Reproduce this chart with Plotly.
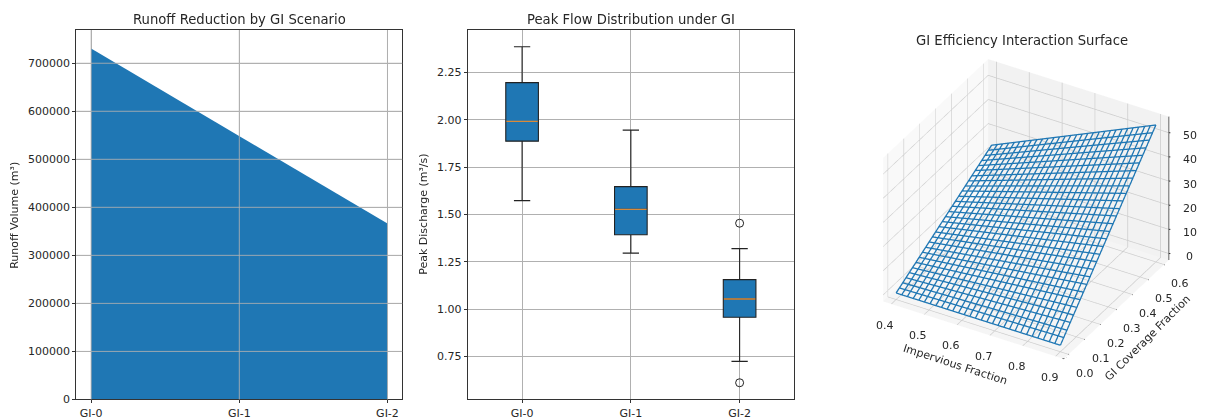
import plotly.graph_objects as go

# ---- data ----
scenarios = ["GI-0", "GI-1", "GI-2"]
scenario_pos = [0, 1, 2]
runoff_volume = [730500, 548500, 366300]
runoff_ticks = [0, 100000, 200000, 300000, 400000, 500000, 600000, 700000]

box_q1 = [1.887, 1.393, 0.958]
box_median = [1.991, 1.527, 1.054]
box_q3 = [2.196, 1.647, 1.156]
box_low = [1.573, 1.296, 0.725]
box_high = [2.385, 1.945, 1.320]
outlier_pos = [2, 2]
outlier_val = [1.454, 0.612]
peak_ticks = [0.75, 1.00, 1.25, 1.50, 1.75, 2.00, 2.25]

imperv = [0.400, 0.417, 0.434, 0.452, 0.469, 0.486, 0.503, 0.521, 0.538, 0.555,
          0.572, 0.590, 0.607, 0.624, 0.641, 0.659, 0.676, 0.693, 0.710, 0.728,
          0.745, 0.762, 0.779, 0.797, 0.814, 0.831, 0.848, 0.866, 0.883, 0.900]
cover = [0.000, 0.021, 0.041, 0.062, 0.083, 0.103, 0.124, 0.145, 0.166, 0.186,
         0.207, 0.228, 0.248, 0.269, 0.290, 0.310, 0.331, 0.352, 0.372, 0.393,
         0.414, 0.434, 0.455, 0.476, 0.497, 0.517, 0.538, 0.559, 0.579, 0.600]
# efficiency along the surface edges (each wire of the mesh is straight)
eff_at_max_cover = [24.0, 25.0, 26.1, 27.1, 28.1, 29.2, 30.2, 31.2, 32.3, 33.3,
                    34.3, 35.4, 36.4, 37.4, 38.5, 39.5, 40.6, 41.6, 42.6, 43.7,
                    44.7, 45.7, 46.8, 47.8, 48.8, 49.9, 50.9, 51.9, 53.0, 54.0]
eff_at_min_imperv = [0.0, 0.8, 1.7, 2.5, 3.3, 4.1, 5.0, 5.8, 6.6, 7.4,
                     8.3, 9.1, 9.9, 10.8, 11.6, 12.4, 13.2, 14.1, 14.9, 15.7,
                     16.6, 17.4, 18.2, 19.0, 19.9, 20.7, 21.5, 22.3, 23.2, 24.0]
eff_at_max_imperv = [0.0, 1.9, 3.7, 5.6, 7.4, 9.3, 11.2, 13.0, 14.9, 16.8,
                     18.6, 20.5, 22.3, 24.2, 26.1, 27.9, 29.8, 31.7, 33.5, 35.4,
                     37.2, 39.1, 41.0, 42.8, 44.7, 46.6, 48.4, 50.3, 52.1, 54.0]
imperv_ticks = [0.4, 0.5, 0.6, 0.7, 0.8, 0.9]
cover_ticks = [0.0, 0.1, 0.2, 0.3, 0.4, 0.5, 0.6]
eff_ticks = [0, 10, 20, 30, 40, 50]
imperv_range = [0.375, 0.925]
cover_range = [-0.03, 0.63]
eff_range = [-2.7, 56.7]

# ---- page geometry ----
W, H = 1209, 425
YS = 0.98
BLUE = "#1f77b4"
GRID = "#b0b0b0"
INK = "#262626"
FONT = "DejaVu Sans"


def fx(p):
    return p / W


def fy(p):
    return 1 - (p / YS) / H


fig = go.Figure()

# panel 1
fig.add_trace(go.Scatter(x=scenario_pos, y=runoff_volume, mode="lines", fill="tozeroy",
                         fillcolor=BLUE, line=dict(width=0), xaxis="x", yaxis="y",
                         hoverinfo="skip", showlegend=False))

# panel 2
fig.add_trace(go.Box(x=scenario_pos, q1=box_q1, median=box_median, q3=box_q3,
                     lowerfence=box_low, upperfence=box_high, width=0.3, whiskerwidth=0.5,
                     fillcolor=BLUE, line=dict(color="#222222", width=1.1),
                     boxpoints=False, xaxis="x2", yaxis="y2", showlegend=False))
fig.add_trace(go.Box(x=scenario_pos, q1=box_median, median=box_median, q3=box_median,
                     lowerfence=box_median, upperfence=box_median, width=0.29, whiskerwidth=0,
                     fillcolor="rgba(0,0,0,0)", line=dict(color="#d98a3a", width=1.3),
                     boxpoints=False, xaxis="x2", yaxis="y2", showlegend=False))
fig.add_trace(go.Scatter(x=outlier_pos, y=outlier_val, mode="markers",
                         marker=dict(symbol="circle-open", size=8, color="#222222",
                                     line=dict(width=1)),
                         xaxis="x2", yaxis="y2", showlegend=False))

# panel 3: wire mesh
wx, wy, wz = [], [], []
for x, zt in zip(imperv, eff_at_max_cover):
    wx += [x, x, None]
    wy += [cover[0], cover[-1], None]
    wz += [0.0, zt, None]
for y, z0, z1 in zip(cover, eff_at_min_imperv, eff_at_max_imperv):
    wx += [imperv[0], imperv[-1], None]
    wy += [y, y, None]
    wz += [z0, z1, None]
fig.add_trace(go.Scatter3d(x=wx, y=wy, z=wz, mode="lines",
                           line=dict(color=BLUE, width=2.6), scene="scene",
                           hoverinfo="skip", showlegend=False))

# panel 3: the three axis lines, along the box edges that carry the ticks
ax_x = [imperv_range[0], imperv_range[1], None, imperv_range[1], imperv_range[1], None,
        imperv_range[1], imperv_range[1]]
ax_y = [cover_range[0], cover_range[0], None, cover_range[0], cover_range[1], None,
        cover_range[1], cover_range[1]]
ax_z = [eff_range[0], eff_range[0], None, eff_range[0], eff_range[0], None,
        eff_range[0], eff_range[1]]
fig.add_trace(go.Scatter3d(x=ax_x, y=ax_y, z=ax_z, mode="lines",
                           line=dict(color="#333333", width=1.6), scene="scene",
                           hoverinfo="skip", showlegend=False))

axis2d = dict(showline=True, mirror=True, linecolor="#333333", linewidth=1,
              ticks="outside", ticklen=3, tickcolor="#333333", tickwidth=1,
              showgrid=True, gridcolor=GRID, gridwidth=1, zeroline=False,
              tickfont=dict(family=FONT, size=11, color=INK))

layout_shapes = []
for t in runoff_ticks[1:]:
    layout_shapes.append(dict(type="line", xref="x domain", yref="y", x0=0, x1=1, y0=t, y1=t,
                              line=dict(color="rgba(176,176,176,0.85)", width=1), layer="above"))
for p in scenario_pos:
    layout_shapes.append(dict(type="line", xref="x", yref="y domain", x0=p, x1=p, y0=0, y1=1,
                              line=dict(color="rgba(176,176,176,0.85)", width=1), layer="above"))

scene_axis = dict(showbackground=True, showspikes=False, gridcolor="#cccccc", gridwidth=1.5,
                  showline=False, zeroline=False, ticks="", showticklabels=False,
                  title=dict(text=""))

tick_font = dict(family=FONT, size=11, color=INK)


def scene_tick(x, y, z, label, dx, dy, tx, ty):
    """A tick mark (short arrow with no head) and its horizontal label, both anchored in data space."""
    return [
        dict(x=x, y=y, z=z, text=" ", showarrow=True, arrowhead=0, arrowwidth=1,
             arrowcolor="#333333", ax=dx, ay=dy),
        dict(x=x, y=y, z=z, text=label, showarrow=False, xshift=tx, yshift=-ty,
             xanchor="center", yanchor="middle", font=tick_font),
    ]


scene_notes = []
for t in imperv_ticks:
    scene_notes += scene_tick(t, cover_range[0], eff_range[0], f"{t:.1f}", -2, 4, -6, 21)
for t in cover_ticks:
    scene_notes += scene_tick(imperv_range[1], t, eff_range[0], f"{t:.1f}", 4, 3, 16, 19)
for t in eff_ticks:
    scene_notes += scene_tick(imperv_range[1], cover_range[1], t, f"{t}", 5, 0, 21, 3)

fig.update_layout(
    width=W, height=H, autosize=False, margin=dict(l=0, r=0, t=0, b=0),
    paper_bgcolor="white", plot_bgcolor="white", showlegend=False,
    font=dict(family=FONT, size=11, color=INK),
    xaxis=dict(axis2d, domain=[fx(76.3), fx(402.3)], range=[-0.1, 2.1], tickvals=scenario_pos,
               ticktext=scenarios, anchor="y"),
    yaxis=dict(axis2d, domain=[fy(398), fy(30)], range=[0, 769000], tickvals=runoff_ticks,
               tickformat="d", anchor="x"),
    xaxis2=dict(axis2d, domain=[fx(467.7), fx(794)], range=[-0.5, 2.5], tickvals=scenario_pos,
                ticktext=scenarios, anchor="y2"),
    yaxis2=dict(axis2d, domain=[fy(398), fy(30)], range=[0.524, 2.473], tickvals=peak_ticks,
                ticktext=[f"{t:.2f}" for t in peak_ticks], anchor="x2"),
    boxmode="overlay",
    shapes=layout_shapes,
    scene=dict(
        domain=dict(x=[fx(843), fx(1209)], y=[0, 1]),
        aspectmode="manual", aspectratio=dict(x=1, y=1, z=0.82),
        camera=dict(eye=dict(x=1.0, y=-1.72, z=1.30), up=dict(x=0, y=0, z=1),
                    center=dict(x=0, y=0, z=0), projection=dict(type="orthographic")),
        xaxis=dict(scene_axis, range=imperv_range, tickvals=imperv_ticks, backgroundcolor="#f9f9f9"),
        yaxis=dict(scene_axis, range=cover_range, tickvals=cover_ticks, backgroundcolor="#f2f2f2"),
        zaxis=dict(scene_axis, range=eff_range, tickvals=eff_ticks, backgroundcolor="#f5f5f5"),
        annotations=scene_notes,
    ),
    annotations=[
        dict(text="Runoff Reduction by GI Scenario", x=fx(239), y=fy(19), xref="paper", yref="paper",
             showarrow=False, font=dict(size=13.2), xanchor="center", yanchor="middle"),
        dict(text="Peak Flow Distribution under GI", x=fx(631), y=fy(19), xref="paper", yref="paper",
             showarrow=False, font=dict(size=13.2), xanchor="center", yanchor="middle"),
        dict(text="GI Efficiency Interaction Surface", x=fx(1022), y=fy(40), xref="paper", yref="paper",
             showarrow=False, font=dict(size=13.2), xanchor="center", yanchor="middle"),
        dict(text="Runoff Volume (m³)", x=fx(15), y=fy(215), xref="paper", yref="paper", textangle=-90,
             showarrow=False, font=dict(size=11), xanchor="center", yanchor="middle"),
        dict(text="Peak Discharge (m³/s)", x=fx(424), y=fy(214), xref="paper", yref="paper", textangle=-90,
             showarrow=False, font=dict(size=11), xanchor="center", yanchor="middle"),
        dict(text="Impervious Fraction", x=fx(955), y=fy(363), xref="paper", yref="paper", textangle=18,
             showarrow=False, font=dict(size=11), xanchor="center", yanchor="middle"),
        dict(text="GI Coverage Fraction", x=fx(1147), y=fy(337), xref="paper", yref="paper", textangle=-45,
             showarrow=False, font=dict(size=11), xanchor="center", yanchor="middle"),
        dict(text="Efficiency (%)", x=fx(1215), y=fy(203), xref="paper", yref="paper", textangle=-90,
             showarrow=False, font=dict(size=11), xanchor="center", yanchor="middle"),
    ],
)

fig.write_html("out.html", config=dict(displayModeBar=False),
               post_script="document.body.style.margin='0';document.documentElement.style.overflow='hidden';")
